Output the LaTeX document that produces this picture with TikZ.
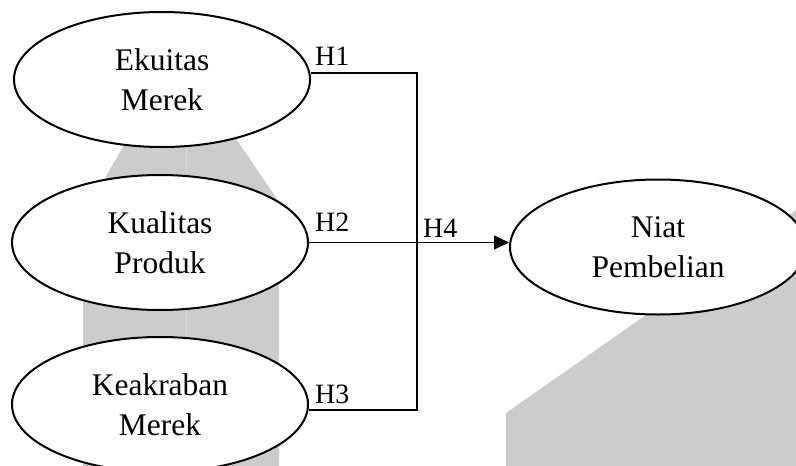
\documentclass[tikz,border=0pt]{standalone}
\usepackage{fontspec}
\setmainfont{Liberation Serif}
\usetikzlibrary{shapes.geometric,arrows.meta}
\definecolor{wmgrey}{HTML}{CCCCCC}
\definecolor{wmseam}{HTML}{D6D6D6}
\tikzset{
  construct/.style={ellipse, draw=black, line width=2pt, fill=white,
    minimum width=296pt, minimum height=135pt, inner sep=0pt,
    align=center, font=\fontsize{31.5}{40}\selectfont},
  hlabel/.style={anchor=base west, inner sep=0pt, font=\fontsize{28}{32}\selectfont},
  link/.style={line width=2pt},
  thinlink/.style={line width=1pt},
}
\begin{document}
\begin{tikzpicture}[x=1pt,y=-1pt]
  \useasboundingbox (0,0) rectangle (796,466);
  \clip (0,0) rectangle (796,466);
  % light grey background shapes
  \fill[wmgrey] (83,466) -- (83,216) -- (150,100) -- (210,100) -- (279,202) -- (279,466) -- cycle;
  \draw[wmseam, line width=1pt] (186,100) -- (186,466);
  \fill[wmgrey] (506,466) -- (506,413) -- (796,210) -- (796,466) -- cycle;

  % constructs
  \node[construct] (ek) at (162,79.5) {Ekuitas\\Merek};
  \node[construct] (kp) at (160,242.5) {Kualitas\\Produk};
  \node[construct] (km) at (160,404.5) {Keakraban\\Merek};
  \node[construct] (np) at (658,247) {Niat\\Pembelian};

  % junction points of the bracket
  \coordinate (j1) at (417,73);
  \coordinate (j3) at (417,410);

  \draw[link] (ek.east |- j1) -- (j1) -- (j3) -- (km.east |- j3);
  \draw[thinlink, -{Triangle[length=15pt,width=14pt]}] (kp.east) -- (kp.east -| np.west);

  % hypothesis labels
  \node[hlabel] (h1) at (315,65.7) {H1};
  \node[hlabel] (h2) at (315,231.7) {H2};
  \node[hlabel] (h3) at (315,403) {H3};
  \node[hlabel] (h4) at (423,237) {H4};
\end{tikzpicture}
\end{document}
